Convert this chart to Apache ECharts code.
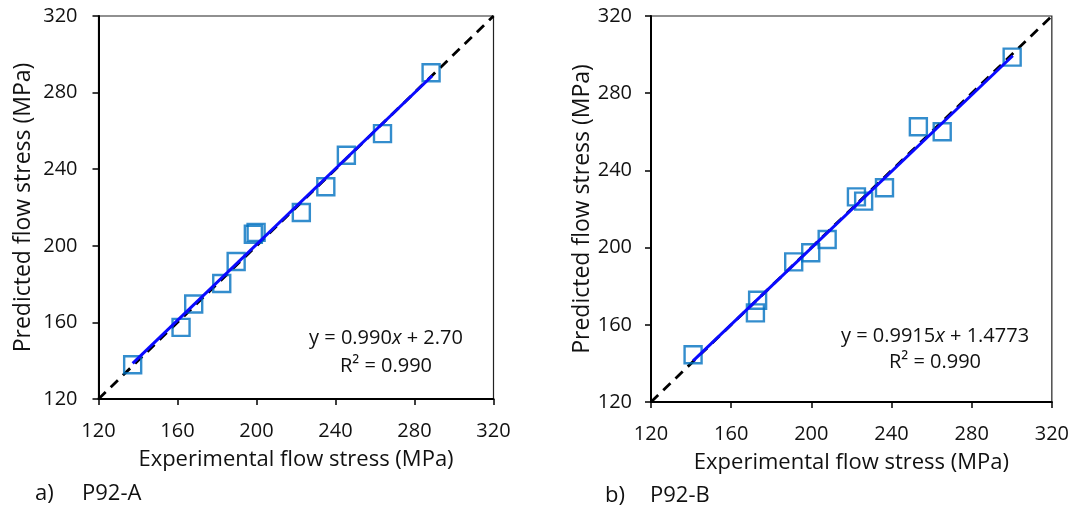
<!DOCTYPE html>
<html>
<head>
<meta charset="utf-8">
<script src="https://cdn.jsdelivr.net/npm/echarts@6/dist/echarts.min.js"></script>
<style>html,body{margin:0;padding:0;background:#fff}#c{width:1072px;height:510px}</style>
</head>
<body>
<div id="c"></div>
<script>
// ---- data ----
const ticks = [120, 160, 200, 240, 280, 320];
const pointsA = [[137.3,137.9],[161.8,157.4],[168.2,169.6],[182.4,180.3],[189.7,191.8],[198.4,206.0],[199.8,207.0],[222.7,217.4],[235.1,230.8],[245.5,247.3],[263.8,258.6],[288.4,290.4]];
const pointsB = [[141.0,144.5],[172.1,166.2],[173.2,172.7],[191.2,192.6],[199.7,197.3],[207.9,204.2],[222.5,226.3],[226.1,224.1],[236.5,231.0],[253.4,262.6],[265.3,260.0],[300.2,298.7]];
const fitA = [[137.3,138.6],[289.0,288.8]];
const fitB = [[141.0,141.3],[300.5,299.4]];
const identity = [[120,120],[320,320]];
const eqA = [['y = 0.990', 'x', ' + 2.70'], 'R² = 0.990'];
const eqB = [['y = 0.9915', 'x', ' + 1.4773'], 'R² = 0.990'];
const panelLabels = [['a)', 'P92-A'], ['b)', 'P92-B']];
const xName = 'Experimental flow stress (MPa)';
const yName = 'Predicted flow stress (MPa)';

const FONT = '"Open Sans", sans-serif';
const TXT = '#111';

function xAxis(idx) {
  return {
    type: 'value', gridIndex: idx, min: ticks[0], max: ticks[ticks.length - 1], interval: ticks[1] - ticks[0],
    name: xName, nameLocation: 'middle', nameGap: 50,
    nameTextStyle: { fontFamily: FONT, fontSize: 22, color: TXT },
    axisLine: { show: true, onZero: false, lineStyle: { color: '#000', width: 2 } },
    axisTick: { show: true, inside: false, length: 6, lineStyle: { color: '#000', width: 1.5 } },
    axisLabel: { margin: 22, fontFamily: FONT, fontSize: 20, color: TXT },
    splitLine: { show: false }
  };
}
function yAxis(idx, gap, margin) {
  return {
    type: 'value', gridIndex: idx, min: ticks[0], max: ticks[ticks.length - 1], interval: ticks[1] - ticks[0],
    name: yName, nameLocation: 'middle', nameGap: gap,
    nameTextStyle: { fontFamily: FONT, fontSize: 23, color: TXT },
    axisLine: { show: true, onZero: false, lineStyle: { color: '#000', width: 2 } },
    axisTick: { show: true, inside: false, length: 6, lineStyle: { color: '#000', width: 1.5 } },
    axisLabel: { margin: margin, fontFamily: FONT, fontSize: 20, color: TXT },
    splitLine: { show: false }
  };
}
function seriesFor(idx, pts, fit) {
  return [
    { type: 'line', xAxisIndex: idx, yAxisIndex: idx, data: identity, symbol: 'none', silent: true,
      lineStyle: { color: '#000', width: 2.8, type: [10, 7] }, z: 2 },
    { type: 'scatter', xAxisIndex: idx, yAxisIndex: idx, data: pts, symbol: 'rect', symbolSize: 17,
      itemStyle: { color: 'rgba(255,255,255,0)', borderColor: '#0070c0', borderWidth: 2.4 }, z: 3 },
    { type: 'line', xAxisIndex: idx, yAxisIndex: idx, data: fit, symbol: 'none', silent: true,
      lineStyle: { color: '#0a0aff', width: 3 }, z: 4 }
  ];
}
function eqText(lines, cx, y1, y2) {
  const base = { fontFamily: FONT, fontSize: 20, fill: TXT };
  return [
    { type: 'text', x: cx, y: y1, style: {
        text: '{n|' + lines[0][0] + '}{i|' + lines[0][1] + '}{n|' + lines[0][2] + '}',
        align: 'center', verticalAlign: 'middle',
        rich: { n: Object.assign({}, base), i: Object.assign({ fontStyle: 'italic' }, base) } } },
    { type: 'text', x: cx, y: y2, style: Object.assign({ text: lines[1], align: 'center', verticalAlign: 'middle' }, base) }
  ];
}
function panelText(lbl, x1, x2, y) {
  const base = { fontFamily: FONT, fontSize: 22, fill: TXT, verticalAlign: 'middle' };
  return [
    { type: 'text', x: x1, y: y, style: Object.assign({ text: lbl[0] }, base) },
    { type: 'text', x: x2, y: y, style: Object.assign({ text: lbl[1] }, base) }
  ];
}

const chart = echarts.init(document.getElementById('c'), null, { renderer: 'canvas' });
chart.setOption({
  backgroundColor: '#fff',
  animation: false,
  grid: [
    { left: 98.5, top: 16, width: 395, height: 383, show: true, borderColor: '#222', borderWidth: 1.2, containLabel: false },
    { left: 651, top: 16, width: 404, height: 386, show: true, borderColor: '#222', borderWidth: 1.2, containLabel: false }
  ],
  xAxis: [xAxis(0), xAxis(1)],
  yAxis: [yAxis(0, 64, 21), yAxis(1, 57, 19)],
  series: [].concat(seriesFor(0, pointsA, fitA), seriesFor(1, pointsB, fitB)),
  graphic: [].concat(
    eqText(eqA, 386, 338, 366),
    eqText(eqB, 935, 336, 362),
    panelText(panelLabels[0], 35, 82, 494),
    panelText(panelLabels[1], 605, 650, 496)
  )
});
</script>
</body>
</html>
